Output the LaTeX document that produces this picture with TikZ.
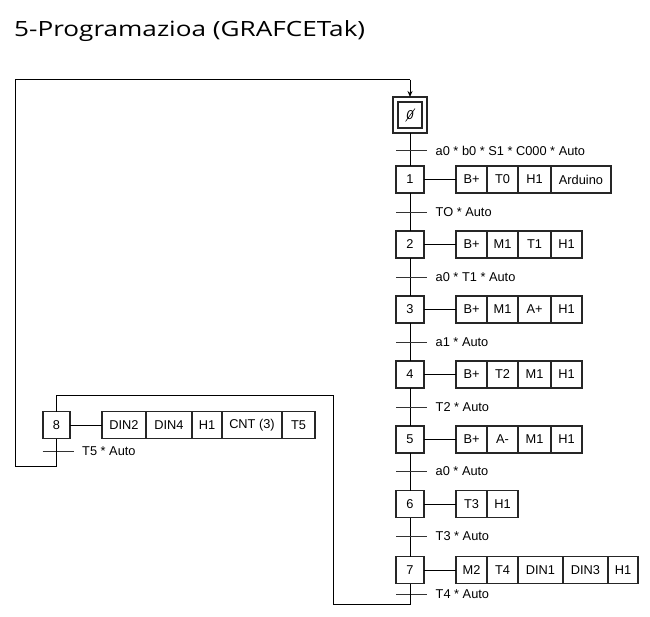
\documentclass[tikz,border=0pt]{standalone}
\usepackage{fontspec}
\usepackage{graphicx}
\setmainfont{Liberation Sans}
\newfontfamily\titlefont{Open Sans}
\usetikzlibrary{arrows.meta}
\tikzset{
  every picture/.style={x=1pt,y=-1pt},
  box/.style={draw=black!85, line width=1.1pt, inner sep=0pt, outer sep=0pt,
    minimum height=27pt, font=\fontsize{12.8}{15}\selectfont},
  stepbox/.style={box, minimum width=28pt},
  act/.style={box, anchor=west},
  wire/.style={line width=1pt, black},
  tbar/.style={line width=0.8pt, black!80},
  lbl/.style={anchor=west, inner sep=0pt, font=\fontsize{12.8}{15}\selectfont},
}
\newcommand\actrow[4]{%
  \coordinate (#2x) at (#3,0);
  \coordinate (#2-0) at (#1 -| #2x);
  \foreach \w/\txt [count=\i, remember=\i as \j (initially 0)] in {#4}{%
    \ifnum\i=1
      \node[act, minimum width=\w pt] (#2-\i) at (#2-0) {\txt};
    \else
      \node[act, minimum width=\w pt] (#2-\i) at (#2-\j.east) {\txt};
    \fi
  }
  \draw[wire] (#1) -- (#2-1);
}
\newcommand\trans[4]{%
  \coordinate (#1) at (#2,#3);
  \draw[tbar] ([xshift=-14pt]#1) -- ([xshift=17pt]#1);
  \node[lbl] (#1l) at ([xshift=25.5pt]#1) {#4};
}
\begin{document}
\begin{tikzpicture}
\useasboundingbox (0,0) rectangle (650,616);
\node[anchor=base west, inner sep=0pt, font=\titlefont\fontsize{21}{25}\selectfont] (title) at (14,36)
  {\resizebox{351pt}{\height}{5-Programazioa (GRAFCETak)}};

% initial step
\node[box, minimum width=34pt, minimum height=36pt] (s0) at (410,115) {};
\node[box, minimum width=24pt, minimum height=26pt] (s0i) at (410,115) {\itshape 0};
\draw[line width=0.6pt] ([shift={(-4.5,6.5)}]s0i.center) -- ([shift={(5,-6.5)}]s0i.center);

% steps
\node[stepbox] (s1) at (410,179.5) {1};
\node[stepbox] (s2) at (410,244.5) {2};
\node[stepbox] (s3) at (410,309.5) {3};
\node[stepbox] (s4) at (410,374.5) {4};
\node[stepbox] (s5) at (410,439.5) {5};
\node[stepbox] (s6) at (410,504) {6};
\node[stepbox] (s7) at (410,570) {7};
\node[stepbox, minimum width=27pt] (s8) at (56.5,425) {8};

% vertical chain
\draw[wire] (s0) -- (s1);
\draw[wire] (s1) -- (s2);
\draw[wire] (s2) -- (s3);
\draw[wire] (s3) -- (s4);
\draw[wire] (s4) -- (s5);
\draw[wire] (s5) -- (s6);
\draw[wire] (s6) -- (s7);

% transitions
\trans{t0}{410}{150.5}{a0 * b0 * S1 * C000 * Auto}
\trans{t1}{410}{212}{TO * Auto}
\trans{t2}{410}{277}{a0 * T1 * Auto}
\trans{t3}{410}{342}{a1 * Auto}
\trans{t4}{410}{407}{T2 * Auto}
\trans{t5}{410}{471.5}{a0 * Auto}
\trans{t6}{410}{536.5}{T3 * Auto}
\trans{t7}{410}{594.5}{T4 * Auto}
\trans{t8}{56.5}{451}{T5 * Auto}

% actions
\actrow{s1}{a1}{456}{31/B+,31/T0,33/H1,60/Arduino}
\actrow{s2}{a2}{456}{31/B+,31/M1,33/T1,31/H1}
\actrow{s3}{a3}{456}{31/B+,31/M1,33/A+,31/H1}
\actrow{s4}{a4}{456}{31/B+,31/T2,33/M1,31/H1}
\actrow{s5}{a5}{456}{31/B+,31/A-,33/M1,31/H1}
\actrow{s6}{a6}{456}{31/T3,31/H1}
\actrow{s7}{a7}{456}{31/M2,31/T4,45/DIN1,45/DIN3,30/H1}
\actrow{s8}{a8}{102}{44/DIN2,46/DIN4,30/H1,60/CNT (3),33/T5}

% loop 7 -> 8
\coordinate (c7b) at (410,604.5);
\coordinate (c7l) at (333.5,604.5);
\coordinate (c8r) at (333.5,395);
\coordinate (c8t) at (56.5,395);
\draw[wire] (s7) -- (c7b) -- (c7l) -- (c8r) -- (c8t) -- (s8);

% loop 8 -> 0
\coordinate (c8b) at (56.5,466.5);
\coordinate (c8l) at (15,466.5);
\coordinate (c0l) at (15,79.5);
\coordinate (c0t) at (410,79.5);
\draw[wire] (s8) -- (c8b) -- (c8l) -- (c0l) -- (c0t);
\draw[wire, -{Stealth[length=6pt,width=5pt]}] (c0t) -- (s0);
\end{tikzpicture}
\end{document}
